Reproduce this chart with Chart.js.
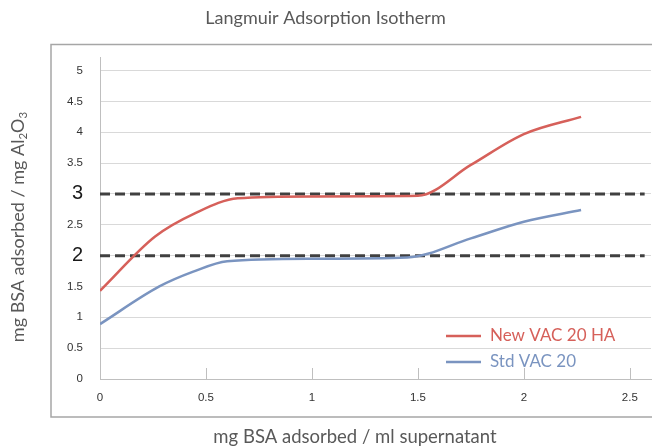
<!DOCTYPE html>
<html>
<head>
<meta charset="utf-8">
<script src="https://cdn.jsdelivr.net/npm/chart.js@4/dist/chart.umd.min.js"></script>
<style>
  body { margin: 0; background: #fff; }
</style>
</head>
<body>
<canvas id="chart" width="652" height="447"></canvas>
<script>
// values
const newVacX = [0, 0.26, 0.45, 0.65, 1.0, 1.5, 1.75, 2.0, 2.27];
const newVacY = [1.43, 2.31, 2.69, 2.93, 2.96, 2.97, 3.47, 3.97, 4.25];
const stdVacX = [0, 0.28, 0.44, 0.6, 1.0, 1.45, 1.75, 2.0, 2.27];
const stdVacY = [0.89, 1.5, 1.74, 1.91, 1.95, 1.97, 2.28, 2.55, 2.74];
const refLevels = [3, 2];
const refLineX = [0, 2.57];
const seriesNames = ['New VAC 20 HA', 'Std VAC 20'];

const titleText = 'Langmuir Adsorption Isotherm';
const xTitle = 'mg BSA adsorbed / ml supernatant';
const yTitle = ['mg BSA adsorbed / mg Al', '2', 'O', '3'];

const red = '#d6605a';
const blue = '#7a94c0';
const textGrey = '#595959';
const sansFont = 'Lato, "Open Sans", sans-serif';
const tickFont = '"Liberation Sans", Arial';

const points = (xs, ys) => xs.map((x, i) => ({x: x, y: ys[i]}));

const datasets = [
    {label: seriesNames[0], data: points(newVacX, newVacY), borderColor: red},
    {label: seriesNames[1], data: points(stdVacX, stdVacY), borderColor: blue}
].map(d => Object.assign(d, {
    borderWidth: 2.5,
    pointRadius: 0,
    cubicInterpolationMode: 'monotone',
    inLegend: true
}));

for (const level of refLevels) {
    datasets.push({
        label: 'ref ' + level,
        data: refLineX.map(x => ({x: x, y: level})),
        borderColor: '#404040',
        borderWidth: 3,
        borderDash: [10, 5],
        pointRadius: 0
    });
}

const extras = {
    id: 'extras',
    beforeDraw(chart) {
        const ctx = chart.ctx;
        ctx.save();
        ctx.strokeStyle = '#a6a6a6';
        ctx.lineWidth = 1.5;
        ctx.strokeRect(51, 44.5, 700, 372.5);
        ctx.restore();
    },
    afterDraw(chart) {
        const ctx = chart.ctx;
        const x = chart.scales.x;
        ctx.save();

        // short tick marks pointing up into the plot
        ctx.strokeStyle = '#bfbfbf';
        ctx.lineWidth = 1;
        for (const t of x.ticks) {
            const px = Math.round(x.getPixelForValue(t.value)) + 0.5;
            ctx.beginPath();
            ctx.moveTo(px, x.top - 11);
            ctx.lineTo(px, x.top);
            ctx.stroke();
        }

        // x axis title
        ctx.fillStyle = textGrey;
        ctx.font = '18.5px ' + sansFont;
        ctx.textAlign = 'center';
        ctx.textBaseline = 'middle';
        ctx.fillText(xTitle, 355, 437);

        // y axis title with subscripts
        ctx.translate(18, 227);
        ctx.rotate(-Math.PI / 2);
        const big = '18px ' + sansFont;
        const small = '11.5px ' + sansFont;
        const parts = yTitle.map((s, i) => ({s: s, sub: i % 2 === 1}));
        let total = 0;
        for (const p of parts) {
            ctx.font = p.sub ? small : big;
            p.w = ctx.measureText(p.s).width;
            total += p.w;
        }
        ctx.textAlign = 'left';
        let cx = -total / 2;
        for (const p of parts) {
            ctx.font = p.sub ? small : big;
            ctx.fillText(p.s, cx, p.sub ? 5 : 0);
            cx += p.w;
        }
        ctx.restore();

        // legend inside the plot
        ctx.save();
        ctx.font = '17px ' + sansFont;
        ctx.textBaseline = 'middle';
        chart.data.datasets.filter(d => d.inLegend).forEach((d, i) => {
            const y = 336 + i * 26;
            ctx.strokeStyle = d.borderColor;
            ctx.lineWidth = 2.5;
            ctx.beginPath();
            ctx.moveTo(446, y);
            ctx.lineTo(481, y);
            ctx.stroke();
            ctx.fillStyle = d.borderColor;
            ctx.fillText(d.label, 490, y);
        });
        ctx.restore();
    }
};

const bigTick = c => !!c.tick && (c.tick.value === 3 || c.tick.value === 2);
const plainLabel = v => String(Math.round(v * 10) / 10);

new Chart(document.getElementById('chart'), {
    type: 'line',
    data: {datasets: datasets},
    plugins: [extras],
    options: {
        responsive: false,
        animation: false,
        layout: {padding: {left: 0, right: 1, top: 0, bottom: 0}},
        plugins: {
            legend: {display: false},
            tooltip: {enabled: false},
            title: {
                display: true,
                text: titleText,
                color: textGrey,
                font: {family: sansFont, size: 18, weight: 'normal', lineHeight: 1.2},
                padding: {top: 7.2, bottom: 28.2}
            }
        },
        scales: {
            x: {
                type: 'linear',
                min: 0,
                max: 2.6,
                afterFit: s => { s.height = 68; },
                grid: {display: false, drawTicks: false},
                border: {display: true, color: '#bfbfbf'},
                ticks: {
                    stepSize: 0.5,
                    includeBounds: false,
                    padding: 12,
                    color: '#333',
                    callback: plainLabel,
                    font: {family: tickFont, size: 11.5}
                }
            },
            y: {
                min: 0,
                max: 5.22,
                afterFit: s => { s.width = 100; },
                grid: {color: '#d9d9d9', lineWidth: 1, drawTicks: false},
                border: {display: true, color: '#bfbfbf'},
                ticks: {
                    stepSize: 0.5,
                    includeBounds: false,
                    padding: 17,
                    callback: plainLabel,
                    color: c => bigTick(c) ? '#1a1a1a' : '#333',
                    font: c => ({
                        family: tickFont,
                        size: bigTick(c) ? 20 : 11.5
                    })
                }
            }
        }
    }
});
</script>
</body>
</html>
